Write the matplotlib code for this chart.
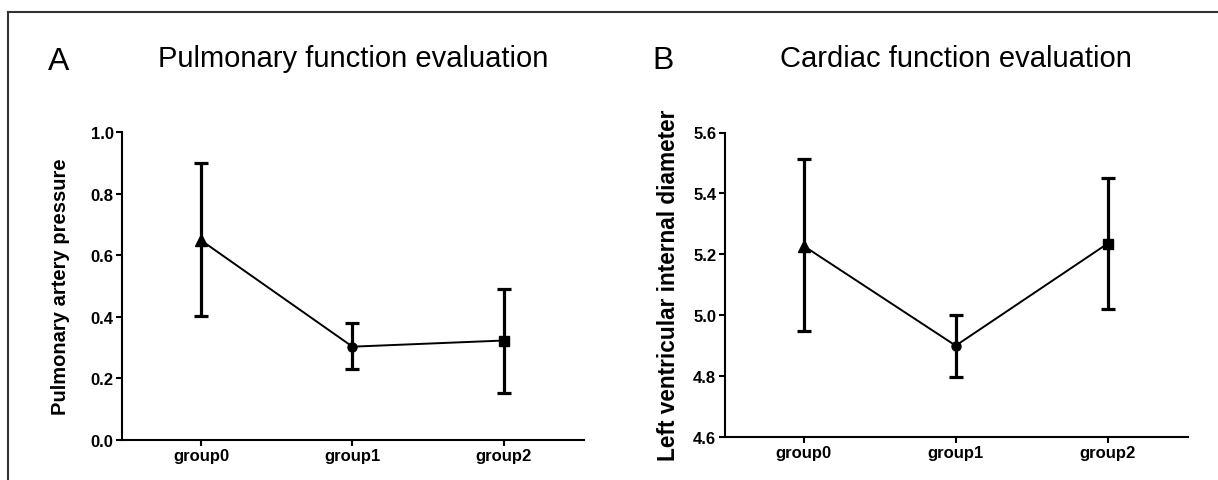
import matplotlib
matplotlib.use("Agg")
import matplotlib.pyplot as plt
from matplotlib.lines import Line2D

plt.rcParams['font.family'] = ['Liberation Sans', 'DejaVu Sans']

groups = ['group0', 'group1', 'group2']
markers = ['^', 'o', 's']

# panel A: pulmonary artery pressure (mean, lower / upper error)
pap_mean = [0.648, 0.303, 0.323]
pap_err_low = [0.244, 0.072, 0.171]
pap_err_high = [0.251, 0.076, 0.168]

# panel B: left ventricular internal diameter
lvid_mean = [5.227, 4.900, 5.235]
lvid_err_low = [0.280, 0.102, 0.215]
lvid_err_high = [0.286, 0.101, 0.216]

W, H = 1218, 481
fig = plt.figure(figsize=(W / 100, H / 100), dpi=100)


def px_axes(left, top, right, bottom):
    return fig.add_axes([left / W, 1 - bottom / H, (right - left) / W, (bottom - top) / H])


def draw_panel(ax, mean, lo, hi, ylim, yticks, ylabel, ylabel_size):
    x = list(range(len(groups)))
    ax.plot(x, mean, color='black', lw=1.4, zorder=2)
    ax.errorbar(x, mean, yerr=[lo, hi], fmt='none', ecolor='black',
                elinewidth=2.3, capsize=4.7, capthick=2.3, zorder=3)
    for xi, yi, m in zip(x, mean, markers):
        ms = 9 if m == '^' else 6.5
        ax.plot(xi, yi, marker=m, color='black', ms=ms, zorder=4)
    ax.set_xlim(-0.523, 2.53)
    ax.set_ylim(*ylim)
    ax.set_yticks(yticks)
    ax.set_yticklabels(['%.1f' % t for t in yticks])
    ax.set_xticks(x)
    ax.set_xticklabels(groups)
    for s in ['top', 'right']:
        ax.spines[s].set_visible(False)
    for s in ['left', 'bottom']:
        ax.spines[s].set_linewidth(1.5)
    ax.tick_params(direction='out', length=4, width=1.5, labelsize=12, pad=2)
    for lab in ax.get_xticklabels() + ax.get_yticklabels():
        lab.set_fontweight('bold')
    ax.set_ylabel(ylabel, fontsize=ylabel_size, fontweight='bold')


axA = px_axes(122, 133, 584, 441)
draw_panel(axA, pap_mean, pap_err_low, pap_err_high, (0.0, 1.0),
           [0.0, 0.2, 0.4, 0.6, 0.8, 1.0], 'Pulmonary artery pressure', 14.5)
axA.yaxis.set_label_coords(-0.112, 0.5)

axB = px_axes(724.5, 133.5, 1188, 438)
draw_panel(axB, lvid_mean, lvid_err_low, lvid_err_high, (4.6, 5.6),
           [4.6, 4.8, 5.0, 5.2, 5.4, 5.6], 'Left ventricular internal diameter', 16.3)
axB.yaxis.set_label_coords(-0.096, 0.5)

# panel letters and titles
fig.text(48 / W, 1 - 70 / H, 'A', fontsize=23, va='baseline', ha='left')
fig.text(652 / W, 1 - 69 / H, 'B', fontsize=23, va='baseline', ha='left')
fig.text(353 / W, 1 - 67 / H, 'Pulmonary function evaluation', fontsize=21,
         va='baseline', ha='center')
fig.text(956 / W, 1 - 67 / H, 'Cardiac function evaluation', fontsize=21,
         va='baseline', ha='center')

# outer frame (top and left edges visible)
fig.add_artist(Line2D([8 / W, 8 / W], [0, 1 - 13 / H], transform=fig.transFigure,
                      color='#333333', lw=1.5))
fig.add_artist(Line2D([8 / W, 1], [1 - 13 / H, 1 - 13 / H], transform=fig.transFigure,
                      color='#333333', lw=1.5))

fig.savefig('out.png', dpi=100)
